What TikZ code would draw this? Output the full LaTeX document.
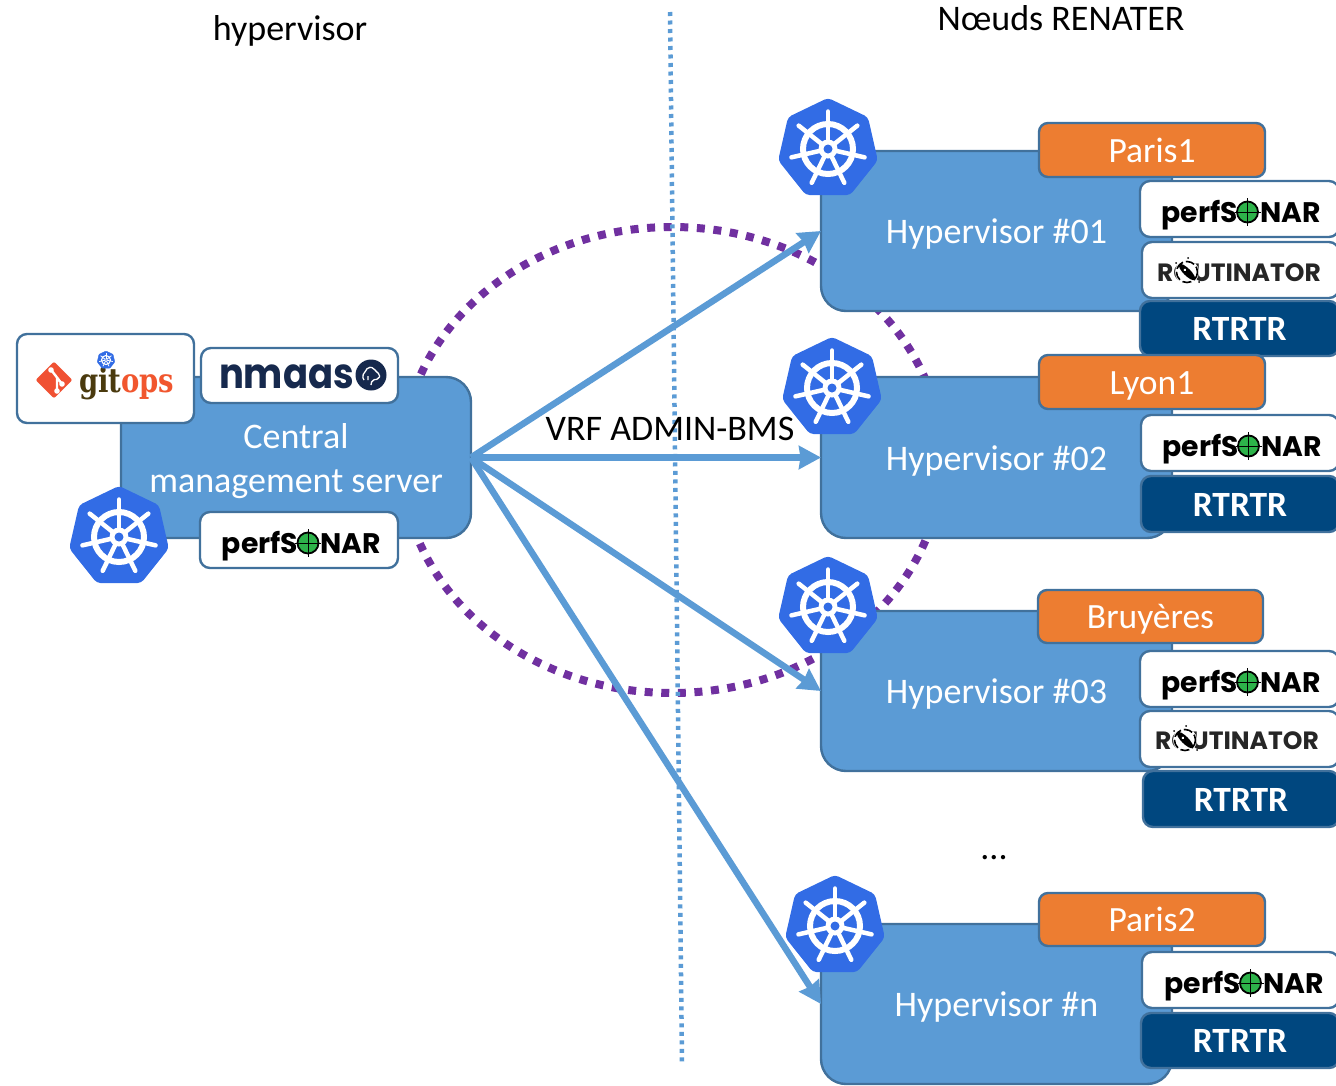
\documentclass[tikz,border=0pt]{standalone}
\usepackage{fontspec}
\setmainfont{Carlito}
\newfontfamily\logofont{Poppins}
\newfontfamily\gitfont{DejaVu Serif}
\usetikzlibrary{shapes.geometric,arrows.meta,backgrounds}
\definecolor{bluefill}{HTML}{5B9BD5}
\definecolor{blueedge}{HTML}{41719C}
\definecolor{orangefill}{HTML}{ED7D31}
\definecolor{navyfill}{HTML}{00477F}
\definecolor{kubeblue}{HTML}{326CE5}
\definecolor{ringpurple}{HTML}{7030A0}
\definecolor{sonargreen}{HTML}{2DB34A}
\definecolor{nmaasnavy}{HTML}{16294D}
\definecolor{gitred}{HTML}{F05133}
\definecolor{gitbrown}{HTML}{4A3A0E}
\tikzset{
  x=1pt,y=-1pt,
  basebox/.style={inner sep=0pt,outer sep=0pt,line width=2.4pt,draw=blueedge,align=center,text height=31pt,text depth=7pt},
  hostbox/.style={basebox,fill=bluefill,rounded corners=25pt,text=white,text height=32pt,font=\fontsize{36}{44}\selectfont},
  whitebox/.style={basebox,fill=white,rounded corners=10pt},
  sitebox/.style={basebox,fill=orangefill,rounded corners=9pt,text=white,font=\fontsize{35.5}{42}\selectfont},
  navybox/.style={basebox,fill=navyfill,rounded corners=10pt,text=white,font=\fontsize{35.5}{42}\selectfont\bfseries},
  plain/.style={inner sep=0pt,outer sep=0pt,text=black,font=\fontsize{36}{42}\selectfont},
  logotext/.style={inner sep=0pt,outer sep=0pt,text=black,font=\fontsize{28.3}{30}\logofont\bfseries},
  link/.style={draw=bluefill,line width=6.5pt,-{Stealth[length=22pt,width=23pt,inset=1.5pt]}},
}
% name, x1, y1, x2, y2, style, text
\newcommand{\bx}[7]{%
  \pgfmathsetmacro{\bxw}{#4-#2}\pgfmathsetmacro{\bxh}{#5-#3}%
  \pgfmathsetmacro{\bxx}{(#2+#4)/2}\pgfmathsetmacro{\bxy}{(#3+#5)/2}%
  \node[#6,minimum width=\bxw pt,minimum height=\bxh pt] (#1) at (\bxx,\bxy) {#7};}
% name, cx, cy, R
\newcommand{\kube}[4]{%
  \node[regular polygon,regular polygon sides=7,fill=kubeblue,draw=kubeblue,line width=#4*0.04pt,rounded corners=#4*0.07pt,minimum size=#4*2pt,inner sep=0pt] (#1) at (#2,#3) {};
  \foreach \kk in {0,...,6}{
    \pgfmathsetmacro{\ka}{90+\kk*360/7}
    \draw[white,line width=#4*0.09pt,line cap=round] (#2,#3) ++({\ka}:{#4*0.12} and {-#4*0.12}) -- ++({\ka}:{#4*0.63} and {-#4*0.63});
  }
  \draw[white,line width=#4*0.12pt] (#2,#3) circle[radius=#4*0.5];
  \fill[white] (#2,#3) circle[radius=#4*0.19];
  \fill[kubeblue] (#2,#3) circle[radius=#4*0.09];
}
% name, cx, cy of the box
\newcommand{\sonar}[3]{%
  \pgfmathsetmacro{\sx}{#2+6.5}%
  \node[logotext,anchor=base] (#1) at (#2,#3+12) {perfSONAR};
  \fill[white] (\sx,#3+2) circle[radius=12.5];
  \draw[black,line width=1.8pt,fill=sonargreen] (\sx,#3+2) circle[radius=10.5];
  \draw[black,line width=.8pt] (\sx,#3-12) -- (\sx,#3+16) (\sx-13,#3+2) -- (\sx+13,#3+2);}
\newcommand{\routin}[3]{%
  \node[logotext,anchor=base,font=\fontsize{25}{30}\logofont\bfseries,text=black!85] (#1) at (#2,#3+10) {ROUTINATOR};
  \pgfmathsetmacro{\rx}{#2-52}%
  \fill[white] (\rx,#3+1) circle[radius=12];
  \draw[black,line width=1.6pt,dash pattern=on 9pt off 3pt] (\rx,#3+1) circle[radius=10.5];
  \fill[black,rotate around={45:(\rx,#3+1)}] (\rx,#3+1) ellipse[x radius=3.6,y radius=11];
  \fill[white,rotate around={45:(\rx,#3+1)}] (\rx,#3-2) circle[radius=1.5];
  \fill[black] (\rx-11,#3-8) circle[radius=1] (\rx+1,#3-13) circle[radius=1] (\rx+12,#3+11) circle[radius=1];
}
\begin{document}
\begin{tikzpicture}
\useasboundingbox (0,0) rectangle (1336,1085);
% main boxes
\bx{central}{121}{377}{471}{538}{hostbox}{}
\bx{hyp1}{821}{151}{1172}{311}{hostbox}{Hypervisor \#01}
\bx{hyp2}{821}{377}{1172}{538}{hostbox}{Hypervisor \#02}
\bx{hyp3}{821}{611}{1172}{771}{hostbox}{Hypervisor \#03}
\bx{hypn}{821}{924}{1172}{1084}{hostbox}{Hypervisor \#n}
\node[plain,text=white,align=center,font=\fontsize{36}{44}\selectfont] (centraltext) at (296,461) {Central\\management server};
% dotted ring behind everything
\begin{scope}[on background layer]
  \draw[ringpurple,line width=8pt,dash pattern=on 8pt off 8.6pt] (672,460) ellipse[x radius=270,y radius=233];
\end{scope}
% links
\draw[link] (central.east) -- (hyp1.west);
\draw[link] (central.east) -- (hyp2.west);
\draw[link] (central.east) -- (hyp3.west);
\draw[link] (central.east) -- (hypn.west);
% divider
\coordinate (dtop) at (670,12);
\coordinate (dbot) at (682,1062);
\draw[bluefill,line width=4.5pt,dash pattern=on 4pt off 4.5pt] (dtop) -- (dbot);
% central attachments
\bx{gitbox}{17}{334}{194}{423}{whitebox}{}
\node[diamond,fill=gitred,minimum size=37pt,inner sep=0pt,rounded corners=2pt] (gitmark) at (54,380) {};
\draw[white,line width=2.4pt] (52,371) -- (62,384) (57,378) -- (57,391);
\fill[white] (51,370) circle[radius=2.8] (62,384) circle[radius=2.8] (57,391) circle[radius=2.8];
\node[inner sep=0pt,outer sep=0pt,anchor=base west,font=\fontsize{33.5}{36}\gitfont\bfseries\addfontfeatures{FakeStretch=0.82}] (gitlabel) at (79,392) {\textcolor{gitbrown}{git}\textcolor{gitred!90!orange}{ops}};
\kube{gitkube}{106}{360}{9}
\bx{nmbox}{201}{348}{398}{403}{whitebox}{}
\node[inner sep=0pt,outer sep=0pt,anchor=base west,text=nmaasnavy,font=\fontsize{42}{44}\logofont\bfseries\addfontfeatures{FakeStretch=0.88}] (nmlabel) at (219,388) {nmaas};
\fill[nmaasnavy] (371,375) circle[radius=15.5];
\draw[white,line width=1.3pt,rounded corners=2pt] (364,380) -- (362,376) -- (365,372) -- (368,367) -- (374,368) -- (376,372) -- (380,374) -- (379,379) -- (372,380) -- (371,385) (368,380) -- (368,376);
\bx{csbox}{200}{512}{398}{568}{whitebox}{}
\sonar{csonar}{301.5}{541}
\kube{ckube}{119}{537}{50}
% hypervisor 1
\bx{s1}{1039}{123}{1265}{177}{sitebox}{Paris1}
\bx{p1box}{1140}{181}{1339}{237}{whitebox}{}
\sonar{p1}{1241}{210}
\bx{r1box}{1142}{242}{1339}{298}{whitebox}{}
\routin{r1}{1239}{271}
\bx{t1}{1140}{301}{1339}{356}{navybox}{RTRTR}
\kube{k1}{828}{149}{50}
% hypervisor 2
\bx{s2}{1039}{355}{1265}{409}{sitebox}{Lyon1}
\bx{p2box}{1141}{415}{1339}{471}{whitebox}{}
\sonar{p2}{1242}{444}
\bx{t2}{1141}{476}{1339}{532}{navybox}{RTRTR}
\kube{k2}{832}{388}{50}
% hypervisor 3
\bx{s3}{1038}{590}{1263}{643}{sitebox}{Bruyères}
\bx{p3box}{1140}{651}{1339}{707}{whitebox}{}
\sonar{p3}{1241}{680}
\bx{r3box}{1140}{711}{1339}{767}{whitebox}{}
\routin{r3}{1237}{739}
\bx{t3}{1143}{771}{1339}{827}{navybox}{RTRTR}
\kube{k3}{828}{607}{50}
% hypervisor n
\bx{s4}{1039}{893}{1265}{946}{sitebox}{Paris2}
\bx{p4box}{1142}{952}{1339}{1008}{whitebox}{}
\sonar{p4}{1244}{981}
\bx{t4}{1141}{1013}{1339}{1068}{navybox}{RTRTR}
\kube{k4}{835}{926}{50}
% free labels
\node[plain] (lhyper) at (290,31) {hypervisor};
\node[plain] (lrenater) at (1061,18) {Nœuds RENATER};
\node[plain] (lvrf) at (670,429) {VRF ADMIN-BMS};
\node[plain] (ldots) at (994,858) {...};
\end{tikzpicture}
\end{document}
